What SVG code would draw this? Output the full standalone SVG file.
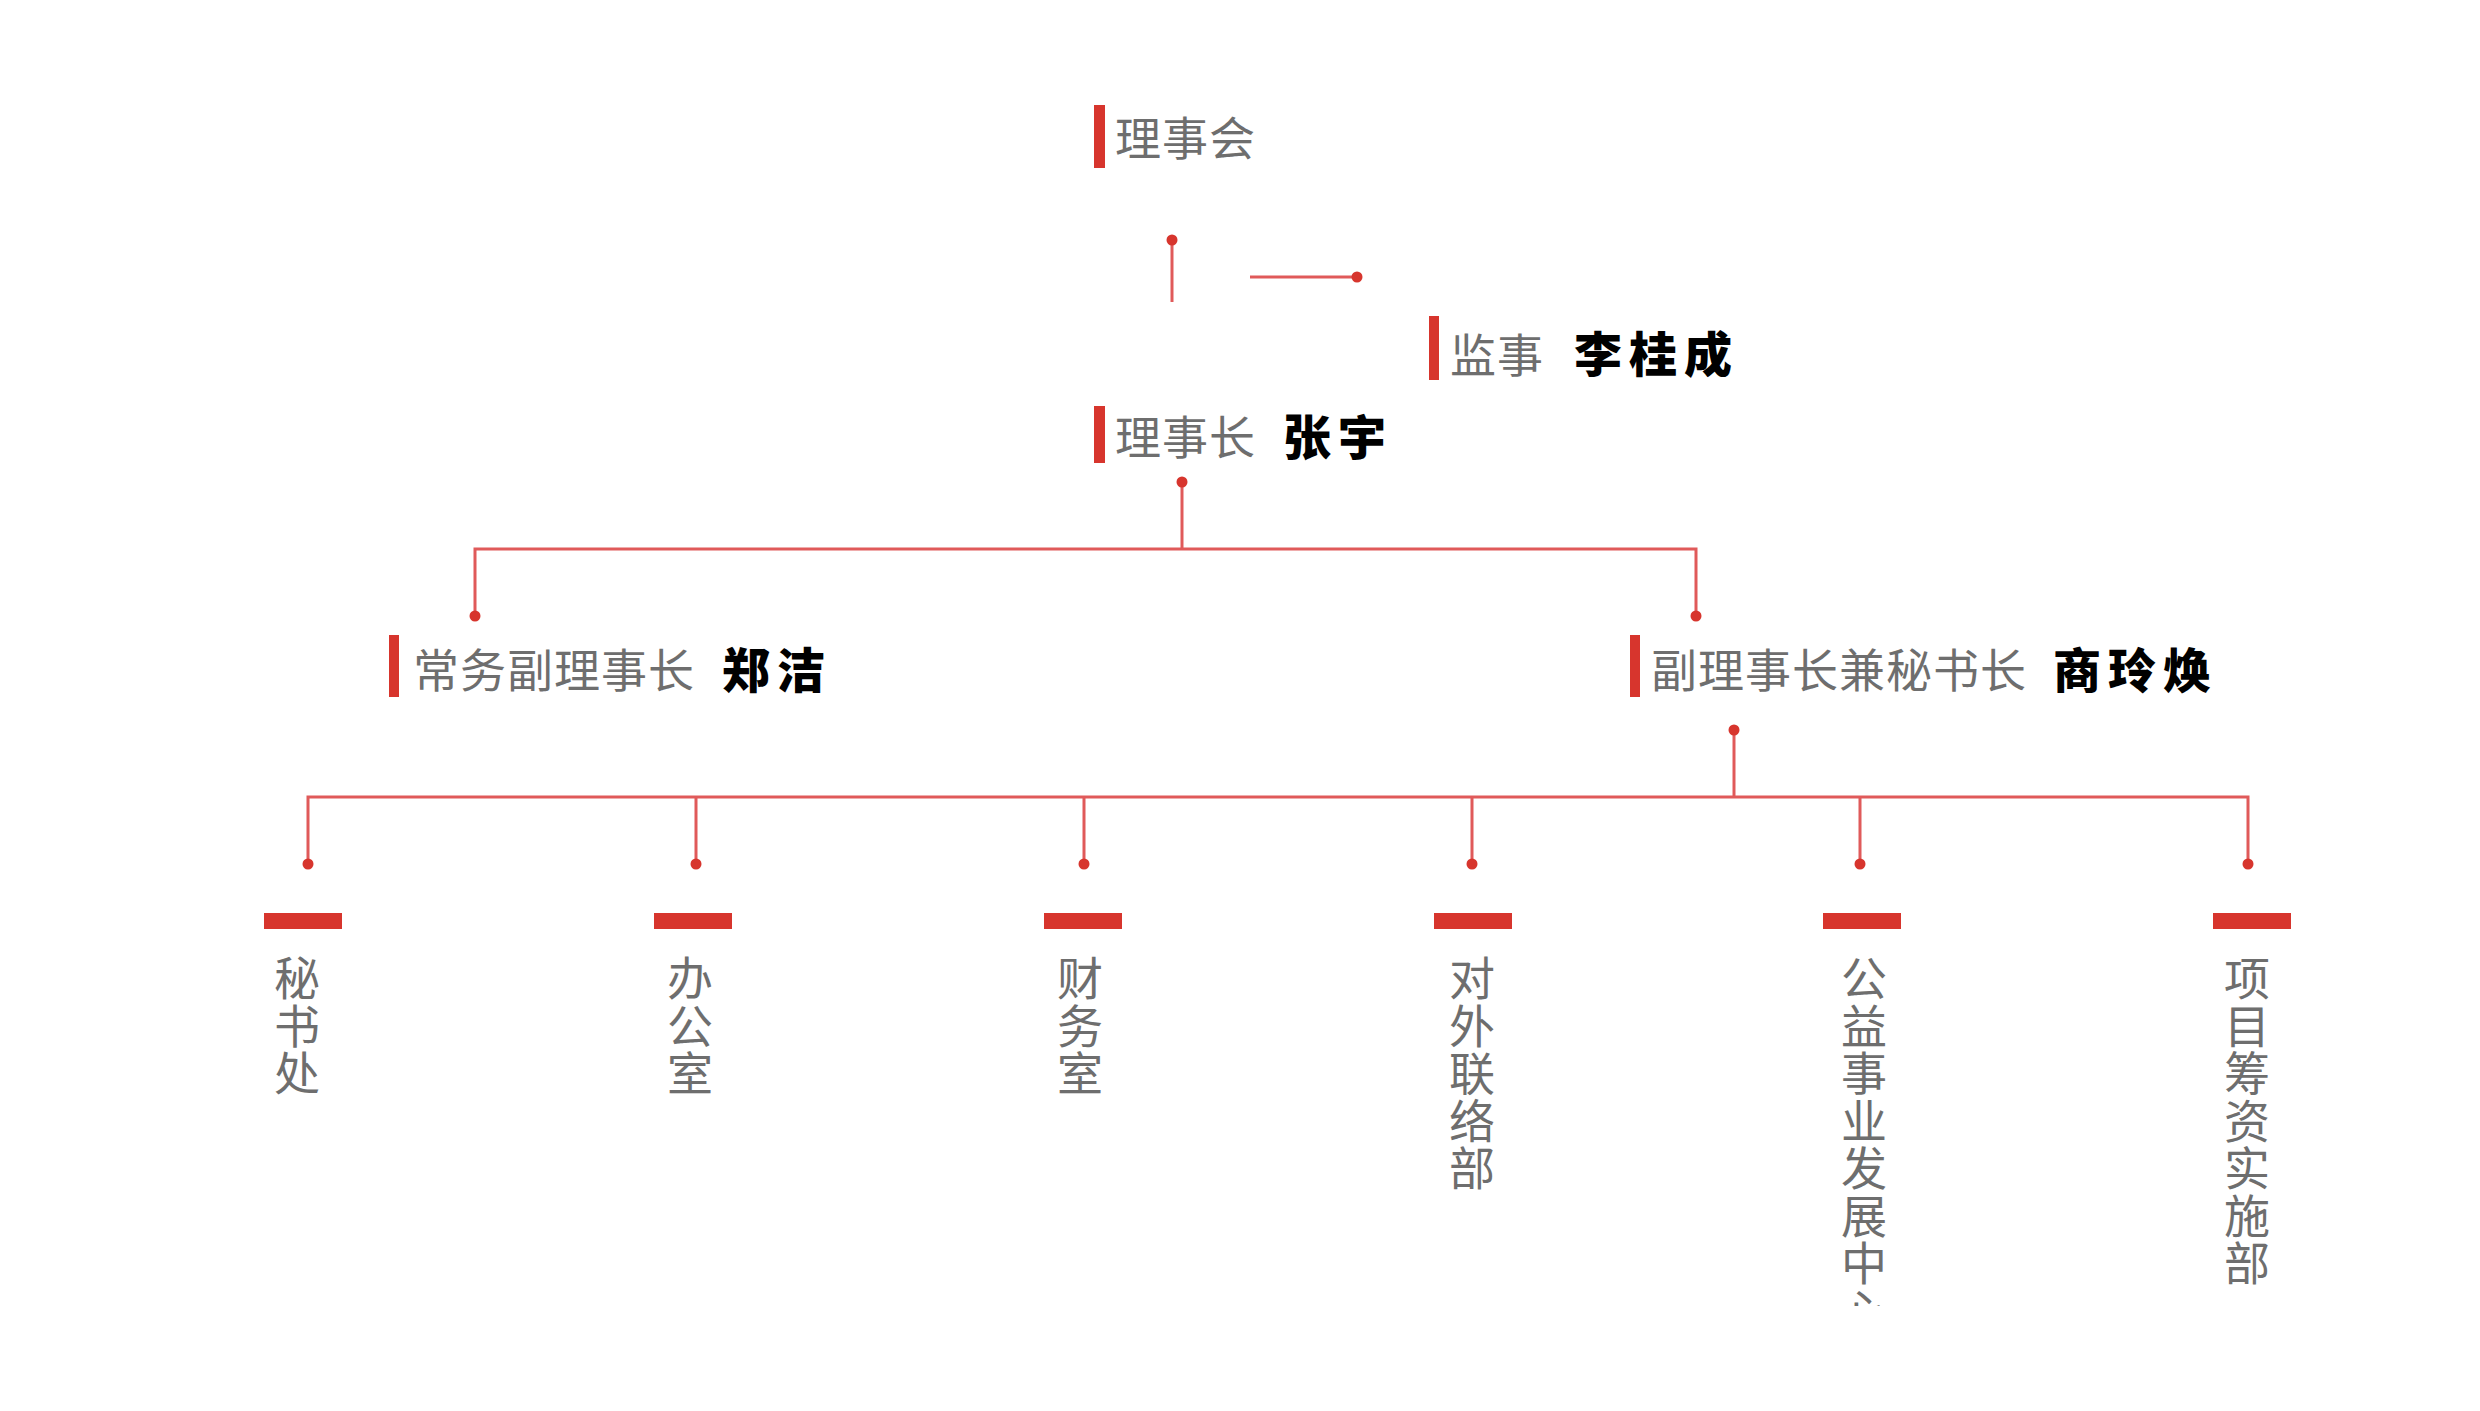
<svg xmlns="http://www.w3.org/2000/svg" width="2480" height="1411" viewBox="0 0 2480 1411">
<style>
.bar{fill:#d7352d}
.gray{font-family:"Noto Sans CJK SC","Noto Sans",sans-serif;font-size:46px;fill:#6e6e6e;letter-spacing:1px}
.name{font-family:"Noto Sans CJK SC","Noto Sans",sans-serif;font-size:48px;font-weight:900;fill:#000;letter-spacing:7px}
.vt{font-family:"Noto Sans CJK SC","Noto Sans",sans-serif;font-size:46px;fill:#6e6e6e;writing-mode:vertical-rl;text-orientation:upright;letter-spacing:1.5px}
.ln{stroke:#e05a5a;stroke-width:3;fill:none}
.dot{fill:#d7352d}
</style>
<defs>
<clipPath id="clipBottom"><rect x="0" y="0" width="2480" height="1306"/></clipPath>
</defs>
<rect width="2480" height="1411" fill="#fff"/>

<g id="connectors">
<path class="ln" d="M1172 240 V302"/>
<path class="ln" d="M1250 277 H1357"/>
<path class="ln" d="M1182 482 V549"/>
<path class="ln" d="M475 616 V549 H1696 V616"/>
<path class="ln" d="M1734 730 V797"/>
<path class="ln" d="M308 864 V797 H2248 V864"/>
<path class="ln" d="M696 797 V864 M1084 797 V864 M1472 797 V864 M1860 797 V864"/>
<circle class="dot" cx="1172" cy="240" r="5.5"/>
<circle class="dot" cx="1357" cy="277" r="5.5"/>
<circle class="dot" cx="1182" cy="482" r="5.5"/>
<circle class="dot" cx="475" cy="616" r="5.5"/>
<circle class="dot" cx="1696" cy="616" r="5.5"/>
<circle class="dot" cx="1734" cy="730" r="5.5"/>
<circle class="dot" cx="308" cy="864" r="5.5"/>
<circle class="dot" cx="696" cy="864" r="5.5"/>
<circle class="dot" cx="1084" cy="864" r="5.5"/>
<circle class="dot" cx="1472" cy="864" r="5.5"/>
<circle class="dot" cx="1860" cy="864" r="5.5"/>
<circle class="dot" cx="2248" cy="864" r="5.5"/>
</g>

<g id="node-board">
<rect class="bar" x="1094" y="105" width="11" height="63"/>
<text class="gray" x="1115" y="155">理事会</text>
</g>

<g id="node-supervisor">
<rect class="bar" x="1429" y="316" width="10" height="64"/>
<text class="gray" x="1450" y="372">监事</text>
<text class="name" x="1574" y="372">李桂成</text>
</g>

<g id="node-chairman">
<rect class="bar" x="1094" y="406" width="11" height="57"/>
<text class="gray" x="1115" y="454">理事长</text>
<text class="name" x="1283" y="455">张宇</text>
</g>

<g id="node-exec-vice">
<rect class="bar" x="389" y="635" width="10" height="62"/>
<text class="gray" x="413" y="687">常务副理事长</text>
<text class="name" x="722" y="688">郑洁</text>
</g>

<g id="node-vice-secretary">
<rect class="bar" x="1630" y="635" width="10" height="62"/>
<text class="gray" x="1651" y="687">副理事长兼秘书长</text>
<text class="name" x="2053" y="688">商玲焕</text>
</g>

<g id="node-secretariat">
<rect class="bar" x="264" y="913" width="78" height="16"/>
<text class="vt" x="297" y="955">秘书处</text>
</g>

<g id="node-office">
<rect class="bar" x="654" y="913" width="78" height="16"/>
<text class="vt" x="690" y="955">办公室</text>
</g>

<g id="node-finance">
<rect class="bar" x="1044" y="913" width="78" height="16"/>
<text class="vt" x="1080" y="955">财务室</text>
</g>

<g id="node-liaison">
<rect class="bar" x="1434" y="913" width="78" height="16"/>
<text class="vt" x="1472" y="955">对外联络部</text>
</g>

<g id="node-welfare">
<rect class="bar" x="1823" y="913" width="78" height="16"/>
<text class="vt" x="1864" y="955" clip-path="url(#clipBottom)">公益事业发展中心</text>
</g>

<g id="node-fundraising">
<rect class="bar" x="2213" y="913" width="78" height="16"/>
<text class="vt" x="2247" y="955">项目筹资实施部</text>
</g>
</svg>
